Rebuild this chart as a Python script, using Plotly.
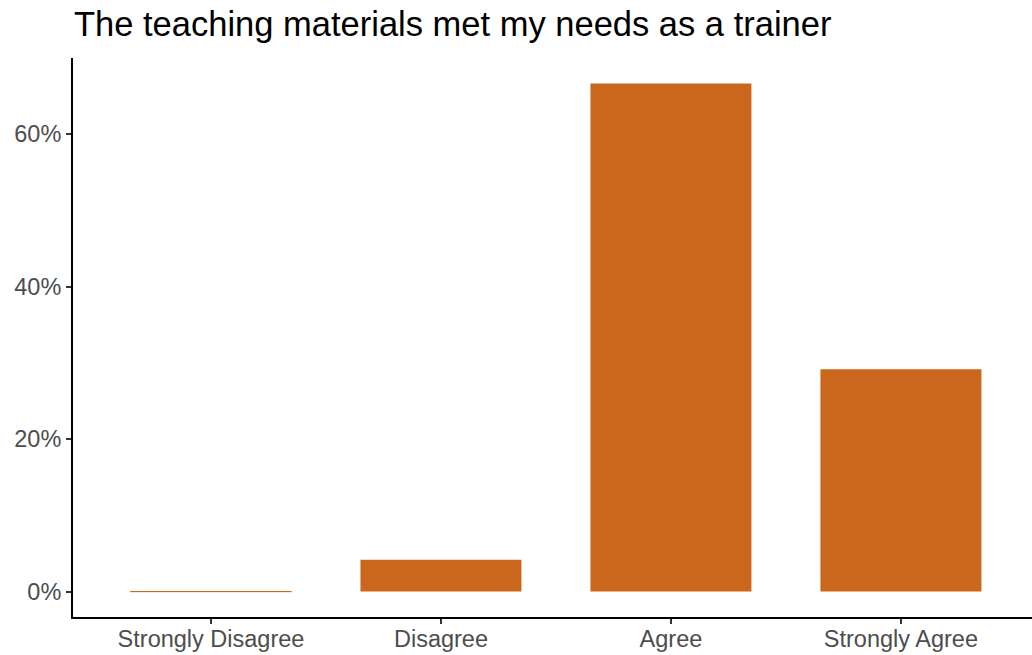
import plotly.graph_objects as go

categories = ["Strongly Disagree", "Disagree", "Agree", "Strongly Agree"]
percent = [0.0, 4.17, 66.67, 29.17]
y_ticks = [0, 20, 40, 60]
y_tick_labels = ["0%", "20%", "40%", "60%"]

bar_color = "#CB661D"

fig = go.Figure(
    go.Bar(
        x=categories,
        y=percent,
        width=0.7,
        marker=dict(color=bar_color, line=dict(color=bar_color, width=[1, 0, 0, 0])),
        hoverinfo="skip",
    )
)

fig.update_layout(
    width=1032,
    height=655,
    margin=dict(l=73, r=0, t=58, b=38, autoexpand=False),
    plot_bgcolor="white",
    paper_bgcolor="white",
    showlegend=False,
    font=dict(family="Liberation Sans, Arial, sans-serif"),
    title=dict(
        text="The teaching materials met my needs as a trainer",
        font=dict(size=34.5, color="black"),
        x=74 / 1032,
        xanchor="left",
        xref="container",
        y=1 - 24 / 655,
        yanchor="middle",
        yref="container",
    ),
)

fig.update_xaxes(
    range=[-0.6, 3.57],
    automargin=False,
    showline=True,
    linecolor="black",
    linewidth=2,
    ticks="outside",
    ticklen=5,
    tickwidth=2,
    tickcolor="#333333",
    tickfont=dict(size=23.5, color="#4D4D4D"),
    ticklabelstandoff=-5,
    showgrid=False,
    zeroline=False,
)

fig.update_yaxes(
    range=[-3.333, 70],
    automargin=False,
    tickvals=y_ticks,
    ticktext=y_tick_labels,
    showline=True,
    linecolor="black",
    linewidth=2,
    ticks="outside",
    ticklen=5,
    tickwidth=2,
    tickcolor="#333333",
    tickfont=dict(size=23.5, color="#4D4D4D"),
    showgrid=False,
    zeroline=False,
)

fig.write_html(
    "out.html",
    config={"displayModeBar": False},
    post_script="document.body.style.margin='0';document.body.style.overflow='hidden';",
)
